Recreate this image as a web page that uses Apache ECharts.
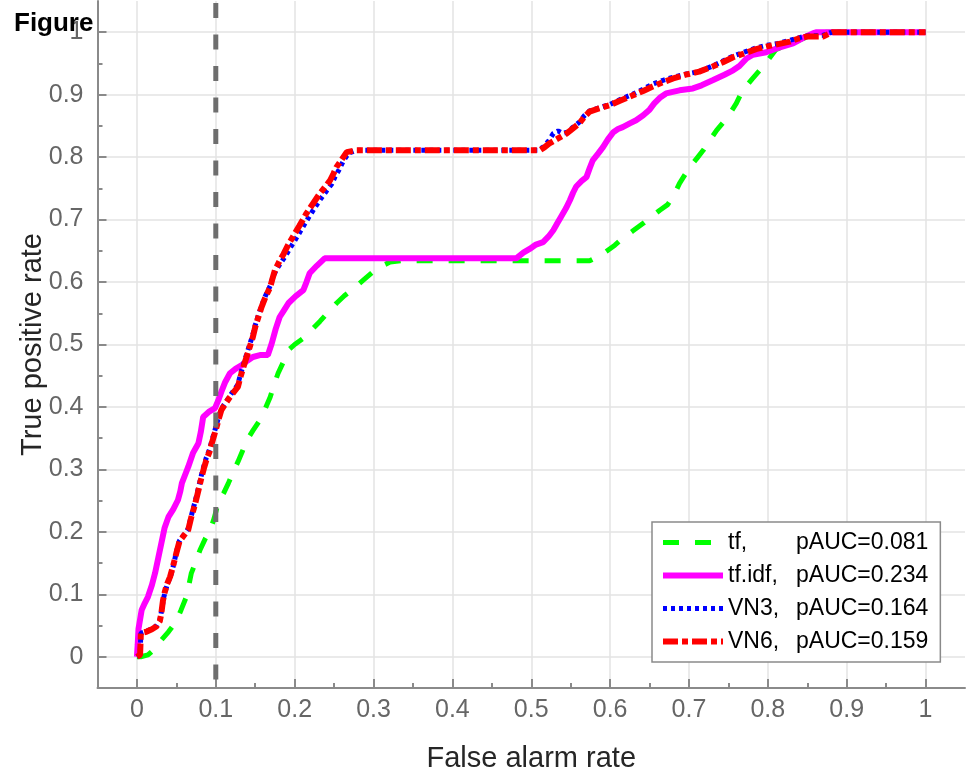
<!DOCTYPE html>
<html>
<head>
<meta charset="utf-8">
<script src="https://cdn.jsdelivr.net/npm/echarts@6/dist/echarts.min.js"></script>
<style>
html,body{margin:0;padding:0;background:#fff;}
#chart{width:968px;height:779px;}
</style>
</head>
<body>
<div id="chart"></div>
<script>
// ---- data ----
const seriesNames = ['tf', 'tf.idf', 'VN3', 'VN6'];
const pAUC = ['0.081', '0.234', '0.164', '0.159'];

const tfData = [[0,0],[0.005,0],[0.014,0.003],[0.022,0.012],[0.031,0.027],[0.040,0.040],[0.050,0.057],[0.056,0.075],[0.063,0.097],[0.069,0.134],[0.074,0.150],[0.080,0.171],[0.087,0.190],[0.093,0.203],[0.098,0.222],[0.103,0.246],[0.110,0.262],[0.116,0.278],[0.122,0.296],[0.128,0.312],[0.134,0.330],[0.139,0.346],[0.147,0.362],[0.156,0.379],[0.163,0.398],[0.169,0.416],[0.174,0.436],[0.179,0.454],[0.186,0.473],[0.192,0.491],[0.200,0.500],[0.211,0.510],[0.222,0.524],[0.232,0.537],[0.242,0.551],[0.253,0.566],[0.263,0.578],[0.274,0.589],[0.287,0.603],[0.300,0.617],[0.311,0.626],[0.321,0.632],[0.335,0.634],[0.574,0.634],[0.585,0.641],[0.595,0.649],[0.606,0.659],[0.616,0.670],[0.629,0.682],[0.642,0.694],[0.653,0.705],[0.663,0.715],[0.673,0.724],[0.680,0.737],[0.688,0.758],[0.695,0.772],[0.701,0.784],[0.710,0.798],[0.718,0.811],[0.726,0.826],[0.735,0.843],[0.745,0.858],[0.752,0.870],[0.760,0.886],[0.768,0.907],[0.780,0.925],[0.794,0.945],[0.810,0.972],[0.835,0.985],[0.860,0.998],[0.870,1],[1,1]];

const tfidfData = [[0,0],[0.001,0.020],[0.002,0.045],[0.006,0.075],[0.010,0.086],[0.014,0.096],[0.019,0.115],[0.023,0.134],[0.027,0.158],[0.031,0.182],[0.035,0.206],[0.040,0.224],[0.046,0.236],[0.052,0.251],[0.055,0.265],[0.057,0.278],[0.061,0.291],[0.065,0.304],[0.071,0.326],[0.078,0.342],[0.081,0.360],[0.084,0.384],[0.091,0.392],[0.099,0.398],[0.103,0.410],[0.107,0.424],[0.112,0.440],[0.118,0.454],[0.125,0.461],[0.133,0.467],[0.140,0.474],[0.147,0.480],[0.156,0.483],[0.166,0.483],[0.171,0.502],[0.176,0.525],[0.181,0.544],[0.186,0.554],[0.192,0.566],[0.201,0.577],[0.211,0.587],[0.215,0.600],[0.219,0.614],[0.228,0.626],[0.238,0.638],[0.481,0.638],[0.490,0.647],[0.498,0.653],[0.506,0.660],[0.515,0.664],[0.522,0.673],[0.528,0.683],[0.533,0.694],[0.538,0.705],[0.544,0.718],[0.549,0.731],[0.553,0.743],[0.557,0.753],[0.564,0.762],[0.570,0.768],[0.574,0.782],[0.578,0.795],[0.585,0.806],[0.591,0.816],[0.597,0.828],[0.604,0.840],[0.610,0.845],[0.616,0.848],[0.625,0.854],[0.633,0.859],[0.642,0.867],[0.650,0.876],[0.656,0.886],[0.663,0.895],[0.671,0.902],[0.688,0.907],[0.705,0.910],[0.716,0.915],[0.730,0.923],[0.745,0.932],[0.756,0.939],[0.764,0.946],[0.773,0.958],[0.781,0.964],[0.798,0.968],[0.811,0.974],[0.832,0.982],[0.845,0.991],[0.857,0.998],[0.862,1],[1,1]];

const vn3Data = [[0,0],[0.004,0.003],[0.005,0.038],[0.012,0.041],[0.019,0.045],[0.025,0.050],[0.029,0.058],[0.031,0.072],[0.034,0.095],[0.036,0.105],[0.039,0.118],[0.043,0.130],[0.047,0.150],[0.050,0.168],[0.054,0.186],[0.060,0.196],[0.065,0.205],[0.069,0.226],[0.073,0.245],[0.076,0.260],[0.079,0.276],[0.082,0.292],[0.085,0.306],[0.088,0.319],[0.092,0.332],[0.095,0.346],[0.098,0.359],[0.101,0.372],[0.104,0.386],[0.108,0.399],[0.113,0.408],[0.118,0.418],[0.123,0.427],[0.128,0.436],[0.131,0.451],[0.135,0.468],[0.139,0.484],[0.143,0.500],[0.147,0.516],[0.150,0.531],[0.154,0.547],[0.158,0.562],[0.163,0.578],[0.169,0.594],[0.172,0.606],[0.176,0.618],[0.182,0.630],[0.188,0.641],[0.194,0.654],[0.200,0.666],[0.208,0.683],[0.217,0.702],[0.226,0.720],[0.234,0.735],[0.241,0.747],[0.247,0.757],[0.251,0.768],[0.256,0.779],[0.261,0.792],[0.268,0.806],[0.278,0.811],[0.508,0.811],[0.515,0.816],[0.522,0.826],[0.528,0.838],[0.534,0.842],[0.540,0.838],[0.546,0.840],[0.553,0.848],[0.561,0.856],[0.567,0.866],[0.574,0.874],[0.586,0.879],[0.599,0.884],[0.614,0.893],[0.629,0.901],[0.642,0.909],[0.654,0.917],[0.667,0.923],[0.680,0.928],[0.696,0.933],[0.713,0.937],[0.730,0.946],[0.743,0.954],[0.756,0.962],[0.770,0.968],[0.785,0.975],[0.798,0.979],[0.813,0.982],[0.828,0.987],[0.839,0.991],[0.849,0.994],[0.870,0.995],[0.878,0.999],[0.882,1],[1,1]];

const vn6Data = [[0,0],[0.004,0.003],[0.005,0.038],[0.012,0.040],[0.019,0.044],[0.025,0.049],[0.029,0.057],[0.031,0.070],[0.033,0.090],[0.035,0.102],[0.038,0.116],[0.042,0.128],[0.046,0.146],[0.050,0.166],[0.054,0.185],[0.060,0.195],[0.065,0.203],[0.069,0.224],[0.073,0.241],[0.076,0.256],[0.079,0.272],[0.082,0.288],[0.085,0.302],[0.088,0.315],[0.092,0.328],[0.095,0.342],[0.098,0.355],[0.101,0.368],[0.104,0.382],[0.107,0.395],[0.112,0.405],[0.118,0.416],[0.123,0.424],[0.128,0.432],[0.131,0.447],[0.135,0.464],[0.139,0.480],[0.143,0.496],[0.147,0.512],[0.150,0.528],[0.154,0.544],[0.158,0.560],[0.163,0.576],[0.169,0.592],[0.172,0.606],[0.175,0.619],[0.181,0.634],[0.186,0.645],[0.192,0.660],[0.198,0.673],[0.206,0.690],[0.215,0.710],[0.224,0.727],[0.232,0.742],[0.239,0.753],[0.245,0.763],[0.249,0.773],[0.253,0.784],[0.259,0.795],[0.266,0.808],[0.278,0.811],[0.511,0.811],[0.517,0.816],[0.523,0.822],[0.534,0.830],[0.545,0.838],[0.553,0.846],[0.561,0.854],[0.567,0.864],[0.574,0.873],[0.586,0.878],[0.599,0.883],[0.614,0.891],[0.629,0.899],[0.642,0.906],[0.654,0.913],[0.667,0.920],[0.680,0.926],[0.696,0.932],[0.713,0.937],[0.730,0.945],[0.743,0.952],[0.756,0.960],[0.770,0.966],[0.785,0.973],[0.798,0.977],[0.813,0.981],[0.828,0.985],[0.839,0.990],[0.849,0.993],[0.870,0.993],[0.878,0.998],[0.882,1],[1,1]];

const thresholdX = [0.1];
const axisRange = [-0.05, 1.05];
const tickValues = [0, 0.1, 0.2, 0.3, 0.4, 0.5, 0.6, 0.7, 0.8, 0.9, 1];
const tickLabels = ['0', '0.1', '0.2', '0.3', '0.4', '0.5', '0.6', '0.7', '0.8', '0.9', '1'];
const minorTickValues = [0.05, 0.15, 0.25, 0.35, 0.45, 0.55, 0.65, 0.75, 0.85, 0.95];

// ---- chart ----
const FONT = 'Liberation Sans, Arial, Helvetica, sans-serif';
const AXIS_COLOR = '#8a8a8a';
const LABEL_COLOR = '#666666';
const TITLE_COLOR = '#262626';

const styles = {
  'tf':     { color: '#00ff00', width: 5,   type: [16, 16] },
  'tf.idf': { color: '#ff00ff', width: 6,   type: 'solid' },
  'VN3':    { color: '#0000ff', width: 5,   type: [4, 4] },
  'VN6':    { color: '#ff0000', width: 6,   type: [15, 4, 6, 4] }
};

function labelFor(v) {
  for (let i = 0; i < tickValues.length; i++) {
    if (Math.abs(tickValues[i] - v) < 1e-9) return tickLabels[i];
  }
  return '';
}

function mainAxis(isX) {
  return {
    type: 'value',
    gridIndex: 0,
    min: axisRange[0],
    max: axisRange[1],
    position: isX ? 'bottom' : 'left',
    name: isX ? 'False alarm rate' : 'True positive rate',
    nameLocation: 'middle',
    nameGap: isX ? 56 : 50,
    nameMoveOverlap: false,
    nameTextStyle: { fontSize: 29, color: TITLE_COLOR, fontFamily: FONT },
    axisLine: { show: true, onZero: false, lineStyle: { color: AXIS_COLOR, width: 2 } },
    axisTick: { show: true, inside: true, length: 9, customValues: tickValues, lineStyle: { color: AXIS_COLOR, width: 2 } },
    axisLabel: { show: true, customValues: tickValues, formatter: labelFor, fontSize: 25, color: LABEL_COLOR, fontFamily: FONT, margin: isX ? 10 : 14, showMinLabel: true, showMaxLabel: true, hideOverlap: false },
    splitLine: { show: true, lineStyle: { color: '#e3e3e3', width: 1.5 } },
    minorTick: { show: false },
    minorSplitLine: { show: false }
  };
}

function minorAxis(isX) {
  return {
    type: 'value',
    gridIndex: 0,
    min: axisRange[0],
    max: axisRange[1],
    position: isX ? 'bottom' : 'left',
    axisLine: { show: false, onZero: false },
    axisTick: { show: true, inside: true, length: 5, customValues: minorTickValues, lineStyle: { color: AXIS_COLOR, width: 2 } },
    axisLabel: { show: false },
    splitLine: { show: false }
  };
}

function curve(name, data) {
  const s = styles[name];
  return {
    name: name,
    type: 'line',
    data: data,
    xAxisIndex: 0,
    yAxisIndex: 0,
    symbol: 'none',
    showSymbol: false,
    smooth: false,
    clip: true,
    lineStyle: { color: s.color, width: s.width, type: s.type, cap: 'butt' },
    itemStyle: { color: s.color },
    emphasis: { disabled: true },
    z: 3
  };
}

const legendLabels = {};
seriesNames.forEach((n, i) => { legendLabels[n] = '{a|' + n + ',}{b|pAUC=' + pAUC[i] + '}'; });

const chart = echarts.init(document.getElementById('chart'), null, { renderer: 'canvas' });
chart.setOption({
  animation: false,
  backgroundColor: '#ffffff',
  grid: { left: 97.5, right: 3, top: 1, bottom: 91, containLabel: false, outerBoundsMode: 'none' },
  xAxis: [mainAxis(true), minorAxis(true)],
  yAxis: [mainAxis(false), minorAxis(false)],
  legend: {
    data: seriesNames.map(n => ({
      name: n,
      itemStyle: { opacity: 0 },
      lineStyle: { color: styles[n].color, width: styles[n].width, type: styles[n].type, opacity: 1 }
    })),
    orient: 'vertical',
    left: 652,
    top: 522,
    padding: [9, 12, 9, 8],
    itemGap: 10,
    itemWidth: 60,
    itemHeight: 24,
    backgroundColor: '#ffffff',
    borderColor: '#8a8a8a',
    borderWidth: 1.5,
    borderRadius: 0,
    selectedMode: false,
    itemStyle: { opacity: 0 },
    formatter: function (n) { return legendLabels[n]; },
    textStyle: {
      fontSize: 23, color: '#000', fontFamily: FONT,
      rich: {
        a: { fontSize: 23, color: '#000', fontFamily: FONT, width: 68, lineHeight: 24 },
        b: { fontSize: 23, color: '#000', fontFamily: FONT, lineHeight: 24 }
      }
    }
  },
  graphic: [{
    type: 'text',
    left: 14,
    top: 11,
    z: 100,
    style: { text: 'Figure', font: 'bold 26px ' + FONT, fill: '#000' }
  }],
  series: [
    curve(seriesNames[0], tfData),
    curve(seriesNames[1], tfidfData),
    curve(seriesNames[2], vn3Data),
    curve(seriesNames[3], vn6Data),
    {
      name: 'threshold',
      type: 'line',
      data: [[thresholdX[0], axisRange[1]], [thresholdX[0], axisRange[0]]],
      symbol: 'none',
      lineStyle: { color: '#6e6e6e', width: 5, type: [15, 16.5], dashOffset: -2, cap: 'butt' },
      emphasis: { disabled: true },
      z: 4
    }
  ]
});
</script>
</body>
</html>
